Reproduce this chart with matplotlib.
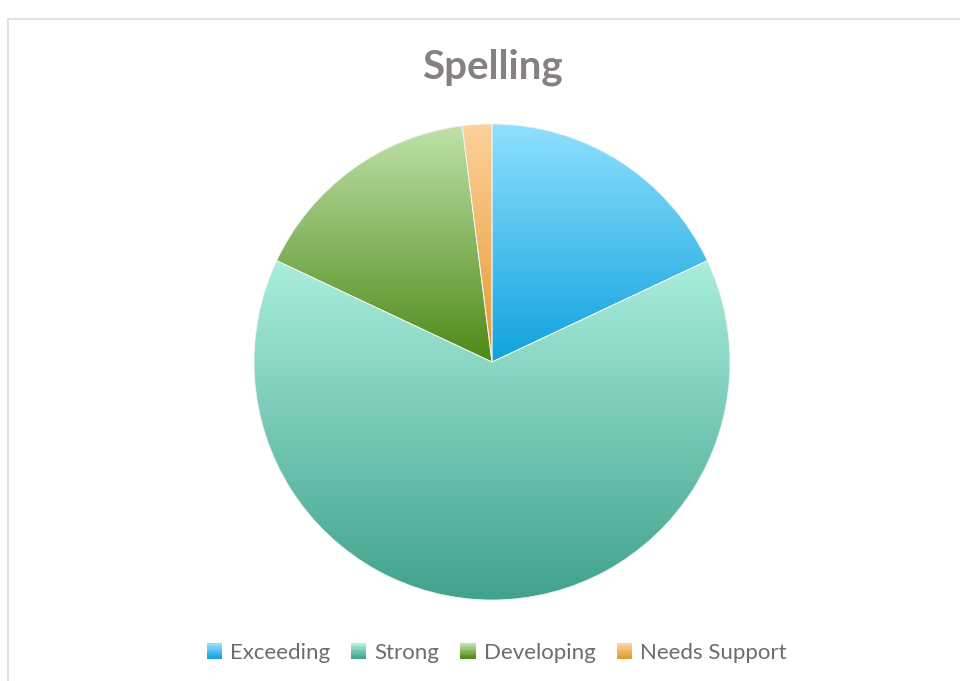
import numpy as np
import matplotlib.pyplot as plt
from matplotlib.colors import LinearSegmentedColormap, to_rgb
from matplotlib.patches import Rectangle
from matplotlib.legend_handler import HandlerBase

plt.rcParams['font.family'] = ['Lato', 'DejaVu Sans']

# spelling results
labels = ["Exceeding", "Strong", "Developing", "Needs Support"]
values = [9, 32, 8, 1]
# gradient colours per slice (top, bottom)
top_colors = ["#8fe0ff", "#aaeedc", "#c0e1a9", "#fdd19b"]
bottom_colors = ["#10a2dd", "#40a28d", "#4d8a18", "#e3992f"]

W, H = 960, 681
fig = plt.figure(figsize=(W / 100, H / 100), dpi=100)
ax = fig.add_axes([0, 0, 1, 1])

# chart frame
ax.plot([7.5, 7.5, W + 5], [-5, H - 18.5, H - 18.5], color="#dcdcdc", lw=1.2)

wedges, _ = ax.pie(values, center=(492, H - 362), radius=238, startangle=90,
                   counterclock=False, frame=True,
                   wedgeprops=dict(linewidth=0.6, edgecolor="#f4f4f4"))

for w, c1, c2 in zip(wedges, top_colors, bottom_colors):
    path = w.get_path().transformed(w.get_patch_transform())
    (x0, y0), (x1, y1) = path.get_extents().get_points()
    cmap = LinearSegmentedColormap.from_list("g", [c2, c1])
    grad = np.linspace(0, 1, 256).reshape(-1, 1)
    im = ax.imshow(grad, cmap=cmap, extent=(x0, x1, y0, y1), origin="lower",
                   aspect="auto", zorder=w.get_zorder() + 0.1)
    im.set_clip_path(w)
    w.set_facecolor("none")
    w.set_zorder(w.get_zorder() + 0.2)

ax.set_xlim(0, W)
ax.set_ylim(0, H)
ax.set_aspect("equal")
ax.axis("off")


class GradientHandler(HandlerBase):
    def __init__(self, c1, c2):
        super().__init__()
        self.c1, self.c2 = np.array(to_rgb(c1)), np.array(to_rgb(c2))

    def create_artists(self, legend, orig_handle, xdescent, ydescent,
                       width, height, fontsize, trans):
        side = 11
        x = -xdescent + width - side
        y = -ydescent + (height - side) / 2
        n = 12
        arts = []
        for i in range(n):
            t = i / (n - 1)
            col = self.c2 * (1 - t) + self.c1 * t
            arts.append(Rectangle((x, y + side * i / n), side, side / n + 0.3,
                                  facecolor=col, edgecolor="none", transform=trans))
        return arts


handles = [Rectangle((0, 0), 1, 1) for _ in labels]
hmap = {h: GradientHandler(a, b) for h, a, b in zip(handles, top_colors, bottom_colors)}
fig.legend(handles, labels, handler_map=hmap, loc="center",
           bbox_to_anchor=(498 / W, 1 - 653 / H), ncol=4, frameon=False,
           fontsize=16, labelcolor="#6f6b6b", handlelength=0.55,
           handletextpad=0.35, columnspacing=1.1)

fig.text(492 / W, 1 - 67 / H, "Spelling", ha="center", va="center",
         fontsize=29, fontweight="bold", color="#858180")

fig.savefig("out.png", dpi=100)
